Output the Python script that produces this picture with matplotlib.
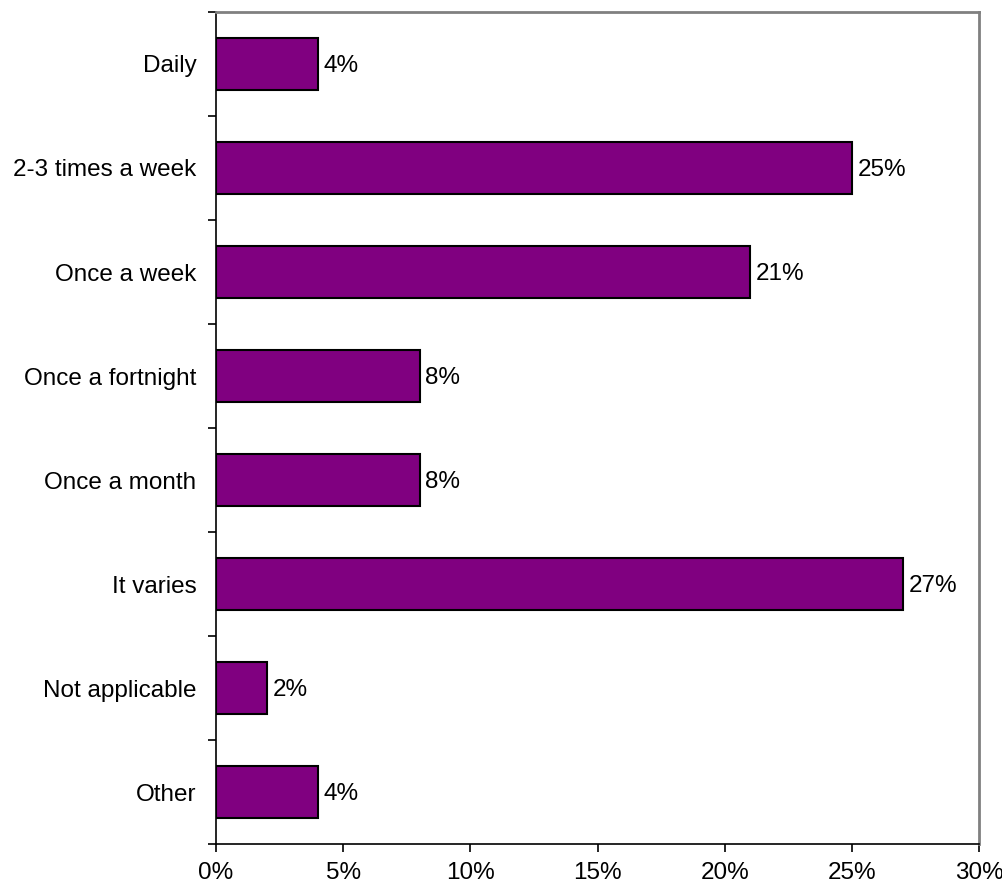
import numpy as np
import matplotlib.pyplot as plt
from matplotlib.ticker import FixedLocator, PercentFormatter

plt.rcParams['font.family'] = ['Liberation Sans', 'DejaVu Sans']

categories = ['Daily', '2-3 times a week', 'Once a week', 'Once a fortnight',
              'Once a month', 'It varies', 'Not applicable', 'Other']
values = [4, 25, 21, 8, 8, 27, 2, 4]

fig = plt.figure(figsize=(10.03, 8.88), dpi=100)
ax = fig.add_axes([0.2154, 0.0495, 0.7607, 0.937])

pos = np.arange(len(categories))
ax.barh(pos, values, height=0.5, color='#800080', edgecolor='black', linewidth=1.5)

# value labels just right of each bar
for p, v in zip(pos, values):
    ax.text(v + 0.22, p + 0.02, f'{v}%', va='center', ha='left', fontsize=17.5)

ax.set_ylim(len(categories) - 0.5, -0.5)
ax.set_yticks(pos)
ax.set_yticklabels(categories, fontsize=17.5)
ax.yaxis.set_minor_locator(FixedLocator(np.arange(-0.5, len(categories), 1)))
ax.tick_params(axis='y', which='major', length=0, pad=14)
ax.tick_params(axis='y', which='minor', length=6, width=1.2, direction='out')

ax.set_xlim(0, 30)
ax.set_xticks(np.arange(0, 31, 5))
ax.xaxis.set_major_formatter(PercentFormatter(decimals=0))
ax.tick_params(axis='x', length=6, width=1.2, direction='out', labelsize=17.5, pad=7)

ax.spines['left'].set_linewidth(1.2)
ax.spines['bottom'].set_linewidth(1.2)
ax.spines['top'].set_color('#808080')
ax.spines['right'].set_color('#808080')
ax.spines['top'].set_linewidth(2)
ax.spines['right'].set_linewidth(2)

fig.savefig('out.png', dpi=100)
